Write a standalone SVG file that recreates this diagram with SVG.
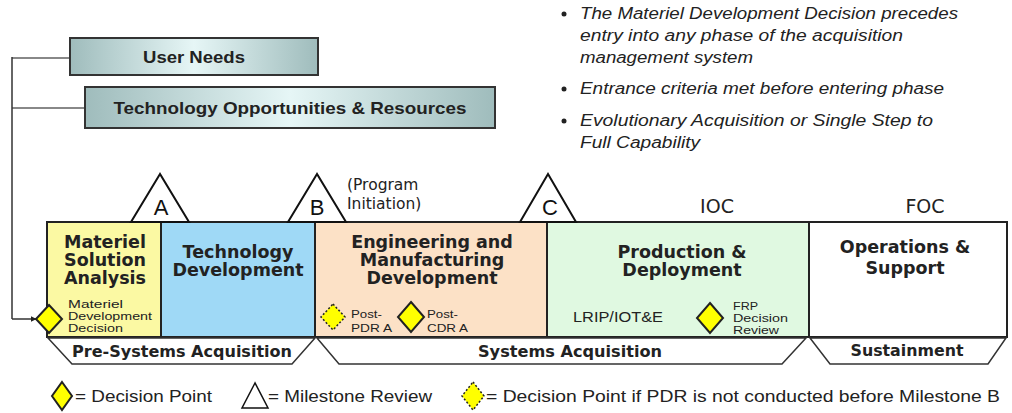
<svg xmlns="http://www.w3.org/2000/svg" width="1012" height="413" viewBox="0 0 1012 413">
<defs>
<linearGradient id="tealGrad" x1="0" y1="0" x2="1" y2="0">
<stop offset="0" stop-color="#9fbcbc"/>
<stop offset="0.5" stop-color="#e6f6f6"/>
<stop offset="1" stop-color="#9fbcbc"/>
</linearGradient>
<marker id="arrow" viewBox="0 0 10 10" refX="9" refY="5" markerWidth="6" markerHeight="6" orient="auto" markerUnits="userSpaceOnUse">
<path d="M0,0 L10,5 L0,10 z" fill="#222"/>
</marker>
<style>
.need{fill:url(#tealGrad);stroke:#333;stroke-width:2}
.needtxt{font-family:"Liberation Sans",Arial,sans-serif;font-weight:bold;font-size:17px;fill:#222;text-anchor:middle}
.phase{stroke:#222;stroke-width:2}
.ph{font-family:"DejaVu Sans",Verdana,sans-serif;font-weight:bold;font-size:17.5px;fill:#222;text-anchor:middle}
.small{font-family:"Liberation Sans",Arial,sans-serif;font-size:11px;fill:#222}
.tri{fill:#fff;stroke:#111;stroke-width:2}
.letter{font-family:"Liberation Sans",Arial,sans-serif;font-size:22px;fill:#111;text-anchor:middle}
.oc{font-family:"DejaVu Sans",Verdana,sans-serif;font-size:19px;fill:#222;text-anchor:middle}
.band{fill:#fff;stroke:#333;stroke-width:1.5}
.bandtxt{font-family:"DejaVu Sans",Verdana,sans-serif;font-weight:bold;font-size:16px;fill:#222;text-anchor:middle}
.dp{fill:#ffff00;stroke:#222;stroke-width:2}
.dpdot{fill:#ffff00;stroke:#222;stroke-width:1.5;stroke-dasharray:2 2}
.bullet{font-family:"Liberation Sans",Arial,sans-serif;font-style:italic;font-size:16px;fill:#222}
.leg{font-family:"Liberation Sans",Arial,sans-serif;font-size:17px;fill:#222}
.conn{fill:none;stroke:#333;stroke-width:1.5}
.conng{fill:none;stroke:#888;stroke-width:2}
</style>
</defs>
<rect width="1012" height="413" fill="#fff"/>

<g id="connectors">
<line class="conng" x1="12" y1="58" x2="70" y2="58"/>
<line class="conng" x1="12" y1="108" x2="85" y2="108"/>
<line class="conn" x1="12" y1="57" x2="12" y2="319"/>
<line class="conn" x1="12" y1="319" x2="36" y2="319" marker-end="url(#arrow)"/>
</g>

<g id="user-needs">
<rect class="need" x="70" y="38" width="248" height="37"/>
<text class="needtxt" x="194" y="63" textLength="102" lengthAdjust="spacingAndGlyphs">User Needs</text>
</g>
<g id="tech-opportunities">
<rect class="need" x="85" y="87" width="410" height="41"/>
<text class="needtxt" x="290" y="114" textLength="353" lengthAdjust="spacingAndGlyphs">Technology Opportunities &amp; Resources</text>
</g>

<g id="bullets">
<circle cx="564" cy="14" r="2.5" fill="#222"/>
<text class="bullet" x="580" y="19" textLength="378" lengthAdjust="spacingAndGlyphs">The Materiel Development Decision precedes</text>
<text class="bullet" x="580" y="41" textLength="323" lengthAdjust="spacingAndGlyphs">entry into any phase of the acquisition</text>
<text class="bullet" x="580" y="63" textLength="173" lengthAdjust="spacingAndGlyphs">management system</text>
<circle cx="564" cy="89" r="2.5" fill="#222"/>
<text class="bullet" x="580" y="94" textLength="364" lengthAdjust="spacingAndGlyphs">Entrance criteria met before entering phase</text>
<circle cx="564" cy="121" r="2.5" fill="#222"/>
<text class="bullet" x="580" y="126" textLength="353" lengthAdjust="spacingAndGlyphs">Evolutionary Acquisition or Single Step to</text>
<text class="bullet" x="580" y="148" textLength="120" lengthAdjust="spacingAndGlyphs">Full Capability</text>
</g>

<g id="phase-msa">
<rect class="phase" x="47" y="222" width="114" height="115" fill="#fbf9a3"/>
<text class="ph" x="105" y="248">Materiel</text>
<text class="ph" x="105" y="266">Solution</text>
<text class="ph" x="105" y="284">Analysis</text>
<text class="small" x="68" y="308" textLength="55" lengthAdjust="spacingAndGlyphs">Materiel</text>
<text class="small" x="68" y="320" textLength="84" lengthAdjust="spacingAndGlyphs">Development</text>
<text class="small" x="68" y="332" textLength="55" lengthAdjust="spacingAndGlyphs">Decision</text>
</g>
<g id="phase-td">
<rect class="phase" x="161" y="222" width="154" height="115" fill="#9fd9f6"/>
<text class="ph" x="238" y="258">Technology</text>
<text class="ph" x="238" y="276">Development</text>
</g>
<g id="phase-emd">
<rect class="phase" x="315" y="222" width="232" height="115" fill="#fce1c6"/>
<text class="ph" x="432" y="248">Engineering and</text>
<text class="ph" x="432" y="266">Manufacturing</text>
<text class="ph" x="432" y="284">Development</text>
<text class="small" x="351" y="318" textLength="31" lengthAdjust="spacingAndGlyphs">Post-</text>
<text class="small" x="351" y="332" textLength="41" lengthAdjust="spacingAndGlyphs">PDR A</text>
<text class="small" x="427" y="318" textLength="31" lengthAdjust="spacingAndGlyphs">Post-</text>
<text class="small" x="427" y="332" textLength="41" lengthAdjust="spacingAndGlyphs">CDR A</text>
</g>
<g id="phase-pd">
<rect class="phase" x="547" y="222" width="262" height="115" fill="#e0f9e1"/>
<text class="ph" x="682" y="258">Production &amp;</text>
<text class="ph" x="682" y="276">Deployment</text>
<text x="573" y="322" font-family="Liberation Sans, Arial, sans-serif" font-size="15" fill="#222" textLength="90" lengthAdjust="spacingAndGlyphs">LRIP/IOT&amp;E</text>
<text class="small" x="733" y="310" textLength="25" lengthAdjust="spacingAndGlyphs">FRP</text>
<text class="small" x="733" y="322" textLength="55" lengthAdjust="spacingAndGlyphs">Decision</text>
<text class="small" x="733" y="334" textLength="46" lengthAdjust="spacingAndGlyphs">Review</text>
</g>
<g id="phase-os">
<rect class="phase" x="809" y="222" width="198" height="115" fill="#fff"/>
<text class="ph" x="905" y="253">Operations &amp;</text>
<text class="ph" x="905" y="274">Support</text>
</g>

<g id="milestone-a">
<polygon class="tri" points="160,174 131,222 189,222"/>
<text class="letter" x="161" y="215">A</text>
</g>
<g id="milestone-b">
<polygon class="tri" points="317,174 288,222 346,222"/>
<text class="letter" x="317" y="215">B</text>
<text x="347" y="190" font-family="DejaVu Sans, Verdana, sans-serif" font-size="15.5" fill="#222">(Program</text>
<text x="347" y="209" font-family="DejaVu Sans, Verdana, sans-serif" font-size="15.5" fill="#222">Initiation)</text>
</g>
<g id="milestone-c">
<polygon class="tri" points="548,174 520,222 576,222"/>
<text class="letter" x="550" y="215">C</text>
</g>
<g id="ioc"><text class="oc" x="717" y="213">IOC</text></g>
<g id="foc"><text class="oc" x="925" y="213">FOC</text></g>

<g id="decision-mdd"><polygon class="dp" points="49,305 62,319 49,333 36,319"/></g>
<g id="decision-post-pdr"><polygon class="dpdot" points="333,304 345,317 333,330 321,317"/></g>
<g id="decision-post-cdr"><polygon class="dp" points="411,302 424,317 411,332 398,317"/></g>
<g id="decision-frp"><polygon class="dp" points="710,303 723,318 710,333 697,318"/></g>

<g id="band-pre">
<polygon class="band" points="48,338 72,364 292,364 315,338"/>
<text class="bandtxt" x="182" y="357" textLength="220" lengthAdjust="spacingAndGlyphs">Pre-Systems Acquisition</text>
</g>
<g id="band-sys">
<polygon class="band" points="317,338 339,364 782,364 806,338"/>
<text class="bandtxt" x="570" y="357" textLength="184" lengthAdjust="spacingAndGlyphs">Systems Acquisition</text>
</g>
<g id="band-sust">
<polygon class="band" points="810,338 830,364 988,364 1006,338"/>
<text class="bandtxt" x="907" y="356" textLength="113" lengthAdjust="spacingAndGlyphs">Sustainment</text>
</g>

<g id="legend">
<polygon class="dp" points="62,382 72,396 62,410 52,396"/>
<text class="leg" x="75" y="402" textLength="137" lengthAdjust="spacingAndGlyphs">= Decision Point</text>
<polygon class="tri" points="255,383 242,408 268,408" style="stroke-width:1.5"/>
<text class="leg" x="268" y="402" textLength="164" lengthAdjust="spacingAndGlyphs">= Milestone Review</text>
<polygon class="dpdot" points="473,382 484,396 473,410 462,396"/>
<text class="leg" x="486" y="402" textLength="514" lengthAdjust="spacingAndGlyphs">= Decision Point if PDR is not conducted before Milestone B</text>
</g>
</svg>
